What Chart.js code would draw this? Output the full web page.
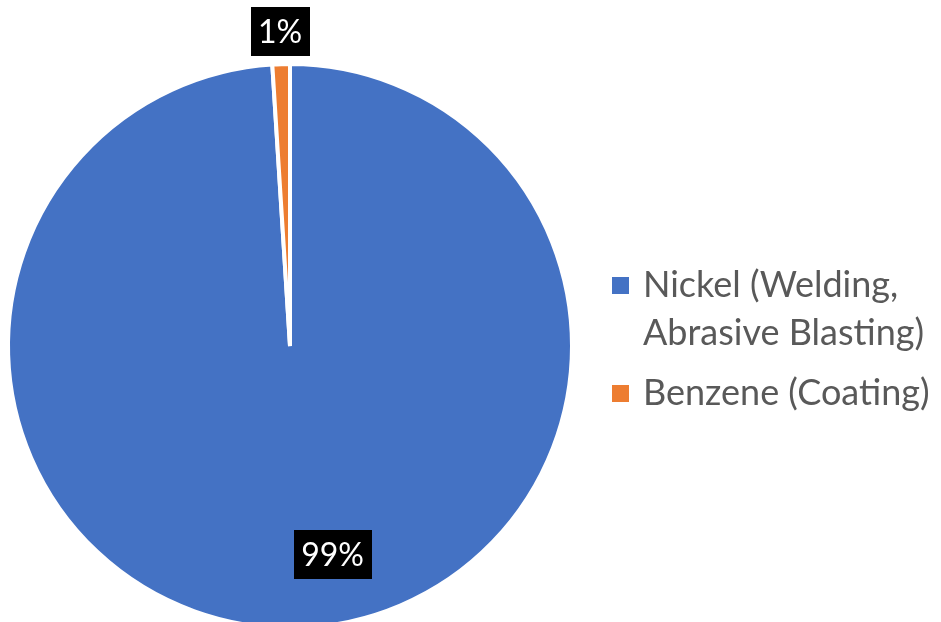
<!DOCTYPE html>
<html>
<head>
<meta charset="utf-8">
<script src="https://cdn.jsdelivr.net/npm/chart.js@4.4.1/dist/chart.umd.min.js"></script>
<style>
  html, body { margin: 0; padding: 0; background: #fff; overflow: hidden; }
  #wrap { position: relative; width: 941px; height: 640px; }
</style>
</head>
<body>
<div id="wrap"><canvas id="pie" width="941" height="640"></canvas></div>
<script>
// Chart data
const categories = ["Nickel (Welding, Abrasive Blasting)", "Benzene (Coating)"]
const shares = [99, 1]
const sliceColors = ["#4472C4", "#ED7D31"]

const FONT = "Lato, 'Open Sans', sans-serif"

// Percent labels in black boxes
const boxLabels = {
  id: "boxLabels",
  afterDatasetsDraw(chart) {
    const ctx = chart.ctx
    const meta = chart.getDatasetMeta(0)
    const total = shares.reduce((a, b) => a + b, 0)
    ctx.save()
    ctx.font = "32px " + FONT
    ctx.textAlign = "center"
    ctx.textBaseline = "middle"
    meta.data.forEach((arc, i) => {
      const p = arc.getProps(["x", "y", "startAngle", "endAngle", "outerRadius"], true)
      const mid = (p.startAngle + p.endAngle) / 2
      const text = Math.round((shares[i] / total) * 100) + "%"
      let x, y
      if (shares[i] / total < 0.05) {
        // small slice: outside end
        const r = p.outerRadius * 1.115
        x = p.x + Math.cos(mid) * r
        y = p.y + Math.sin(mid) * r
      } else {
        const r = p.outerRadius * 0.74
        x = p.x + Math.cos(mid) * r + 36
        y = p.y + Math.sin(mid) * r
      }
      const w = ctx.measureText(text).width + 15
      const h = 49
      ctx.fillStyle = "#000"
      ctx.fillRect(Math.round(x - w / 2), Math.round(y - h / 2), Math.round(w), h)
      ctx.fillStyle = "#fff"
      ctx.fillText(text, x, y + 1)
    })
    ctx.restore()
  },
}

// Legend on the right with wrapped text
const sideLegend = {
  id: "sideLegend",
  afterDraw(chart) {
    const ctx = chart.ctx
    ctx.save()
    ctx.font = "36px " + FONT
    ctx.textBaseline = "middle"
    const maxW = 292
    let y = 285
    chart.data.labels.forEach((label, i) => {
      const words = label.split(" ")
      const lines = []
      let cur = ""
      words.forEach((w) => {
        const test = cur ? cur + " " + w : w
        if (ctx.measureText(test).width > maxW && cur) {
          lines.push(cur)
          cur = w
        } else {
          cur = test
        }
      })
      if (cur) lines.push(cur)

      ctx.fillStyle = chart.data.datasets[0].backgroundColor[i]
      ctx.fillRect(612, y - 8, 17, 17)
      ctx.fillStyle = "#595959"
      lines.forEach((ln, j) => {
        ctx.fillText(ln, 643, y + j * 48)
      })
      y += lines.length * 48 + 12
    })
    ctx.restore()
  },
}

new Chart(document.getElementById("pie"), {
  type: "pie",
  data: {
    labels: categories,
    datasets: [
      {
        data: shares,
        backgroundColor: sliceColors,
        borderColor: "#ffffff",
        borderWidth: 4,
      },
    ],
  },
  options: {
    responsive: false,
    animation: false,
    layout: { padding: { left: 6, right: 367, top: 62, bottom: 10 } },
    plugins: {
      legend: { display: false },
      tooltip: { enabled: false },
    },
  },
  plugins: [boxLabels, sideLegend],
})
</script>
</body>
</html>
